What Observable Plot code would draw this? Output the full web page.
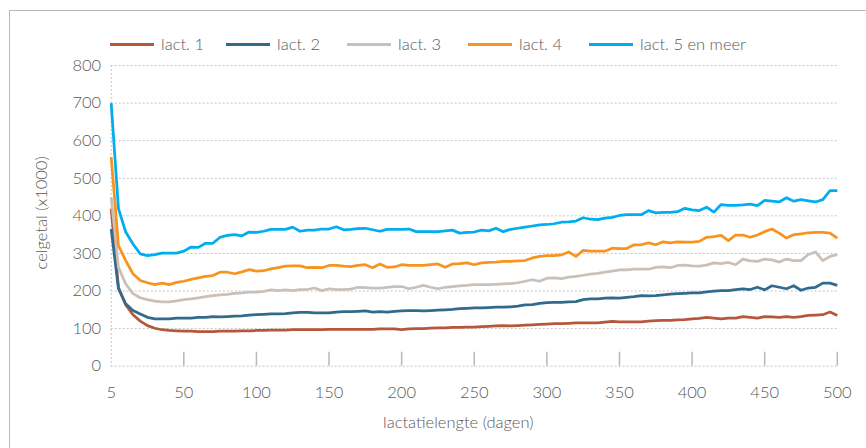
<!DOCTYPE html>
<html>
<head>
<meta charset="utf-8">
<script src="https://cdn.jsdelivr.net/npm/d3@7"></script>
<script src="https://cdn.jsdelivr.net/npm/@observablehq/plot@0.6"></script>
<style>
  html, body { margin: 0; padding: 0; background: #fff; overflow: hidden; }
  #wrap { position: relative; width: 866px; height: 448px; font-family: Lato, "Open Sans", sans-serif; font-weight: 300; color: #595959; }
  #frame { position: absolute; left: 9px; top: 10px; width: 900px; height: 500px; border-top: 1.5px solid #b8b8b8; border-left: 1.5px solid #b8b8b8; box-sizing: border-box; }
  #legend { position: relative; height: 55px; }
  .item { position: absolute; top: 34px; height: 20px; font-size: 16.5px; line-height: 20px; white-space: nowrap; }
  .sw { position: absolute; left: 0; top: 8.5px; width: 44px; height: 3px; }
  .lab { position: absolute; left: 51px; top: 0; }
  svg { display: block; }
  svg text { font-weight: 300; }
</style>
</head>
<body>
<div id="wrap">
  <div id="frame"></div>
  <div id="legend"></div>
  <div id="chart"></div>
</div>
<script>
// ---- data ----
const seriesNames = ["lact. 1", "lact. 2", "lact. 3", "lact. 4", "lact. 5 en meer"];
const seriesColors = ["#b5573b", "#326a8e", "#c9c0b9", "#f7941e", "#00aeef"];
// category positions (every 5 days; first category labelled "5")
const days = d3.range(0, 501, 5);
const xTicks = [0, 50, 100, 150, 200, 250, 300, 350, 400, 450, 500];
const xTickLabels = ["5", "50", "100", "150", "200", "250", "300", "350", "400", "450", "500"];
const yTicks = [0, 100, 200, 300, 400, 500, 600, 700, 800];
const xTitle = "lactatielengte (dagen)";
const yTitle = "celgetal (x1000)";

const lact1 = [419,210,163,137,120,108,101,97,95,94,
  93,93,92,92,92,93,93,93,94,94,
  95,95,96,96,96,97,97,97,97,97,
  98,98,98,98,98,98,98,99,99,99,
  97,99,100,100,101,102,102,103,103,104,
  104,105,106,107,108,107,108,109,110,111,
  112,113,113,114,115,115,115,115,117,119,
  118,118,118,118,120,121,122,122,123,124,
  126,127,130,128,126,128,128,132,130,128,
  132,131,130,132,130,132,135,136,137,144,
  135];
const lact2 = [365,206,166,148,139,130,126,126,126,128,
  128,128,130,130,132,131,132,133,134,136,
  137,138,139,139,140,142,143,143,142,142,
  142,144,145,145,146,147,144,145,144,146,
  147,148,148,147,148,149,150,151,153,154,
  155,155,156,157,157,158,160,163,164,167,
  169,170,170,171,172,177,179,179,181,182,
  181,183,185,188,187,188,190,192,193,194,
  195,195,198,200,201,201,204,206,204,210,
  203,214,210,206,214,202,208,210,221,221,
  215];
const lact3 = [450,263,219,193,182,177,173,171,171,174,
  177,179,182,185,188,190,191,194,195,197,
  197,199,203,201,203,201,204,204,208,201,
  206,204,204,205,210,209,208,208,210,212,
  212,206,210,215,210,206,210,212,214,215,
  217,217,217,218,219,220,222,226,230,226,
  234,235,233,237,239,242,245,247,250,253,
  256,256,258,258,258,263,264,262,268,269,
  267,266,269,275,273,276,270,285,280,279,
  285,283,277,285,281,281,297,304,281,292,
  297];
const lact4 = [556,321,281,246,228,222,217,221,217,223,
  226,231,235,239,241,250,250,246,251,257,
  253,254,259,262,266,267,267,262,263,262,
  268,268,266,265,268,270,262,272,263,264,
  270,268,268,268,270,272,263,272,273,275,
  270,275,276,277,279,279,280,281,288,292,
  294,294,296,304,292,308,306,306,306,314,
  313,313,323,323,328,323,331,328,331,330,
  330,332,343,345,348,334,349,349,343,349,
  358,365,354,341,350,352,355,356,356,354,
  341];
const lact5 = [700,419,357,325,299,294,297,301,301,301,
  306,317,316,327,327,343,348,350,347,357,
  356,359,364,364,364,370,359,362,362,365,
  365,371,363,364,366,367,363,359,364,364,
  364,365,358,358,358,358,360,362,354,356,
  357,362,360,367,358,364,367,370,373,376,
  377,379,383,384,386,395,391,390,394,396,
  401,403,403,403,414,408,409,409,411,420,
  416,414,423,410,430,428,428,429,431,427,
  441,439,437,448,439,443,440,437,443,467,
  467];
const seriesValues = [lact1, lact2, lact3, lact4, lact5];

// ---- table ----
const rows = seriesValues.flatMap((vals, s) =>
  vals.map((v, i) => ({day: days[i], value: v, series: seriesNames[s]})));

// ---- legend ----
const legendX = [110, 226, 347, 468, 589];
const legend = document.getElementById("legend");
seriesNames.forEach((name, i) => {
  const it = document.createElement("div");
  it.className = "item";
  it.style.left = legendX[i] + "px";
  const sw = document.createElement("div");
  sw.className = "sw";
  sw.style.background = seriesColors[i];
  const lab = document.createElement("span");
  lab.className = "lab";
  lab.textContent = name;
  it.appendChild(sw); it.appendChild(lab);
  legend.appendChild(it);
});

// ---- chart ----
const H = 393, mTop = 10, mBottom = 82.3;
const frameH = H - mTop - mBottom;
const chart = Plot.plot({
  width: 866,
  height: H,
  marginLeft: 110.7,
  marginRight: 29.2,
  marginTop: mTop,
  marginBottom: mBottom,
  style: {fontFamily: "Lato, 'Open Sans', sans-serif", fontSize: "16.5px", color: "#595959", background: "transparent", overflow: "visible"},
  x: {domain: [0, 500]},
  y: {domain: [0, 800]},
  color: {domain: seriesNames, range: seriesColors},
  marks: [
    Plot.gridY(yTicks, {stroke: "#c4c4c4", strokeOpacity: 1, strokeWidth: 1, strokeDasharray: "2,2"}),
    Plot.ruleX([0], {stroke: "#c4c4c4", strokeWidth: 1, strokeDasharray: "2,2"}),
    Plot.ruleX(xTicks.slice(1), {stroke: "#b8b8b8", strokeWidth: 1.5, insetTop: frameH - 14}),
    Plot.axisX(xTicks, {tickSize: 0, tickPadding: 20, label: null,
      tickFormat: d => xTickLabels[xTicks.indexOf(d)]}),
    Plot.axisY(yTicks, {tickSize: 0, tickPadding: 10, label: null}),
    Plot.line(rows, {x: "day", y: "value", z: "series", stroke: "series", strokeWidth: 2.75, strokeLinejoin: "round", strokeLinecap: "butt"}),
    Plot.text([xTitle], {frameAnchor: "bottom", lineAnchor: "middle", textAnchor: "middle", dy: 56.3, dx: -16, fill: "#595959", fontSize: 16.5}),
    Plot.text([yTitle], {frameAnchor: "left", lineAnchor: "middle", textAnchor: "middle", rotate: -90, dx: -69.7, dy: -3, fill: "#595959", fontSize: 16.5})
  ]
});
document.getElementById("chart").appendChild(chart);
</script>
</body>
</html>
